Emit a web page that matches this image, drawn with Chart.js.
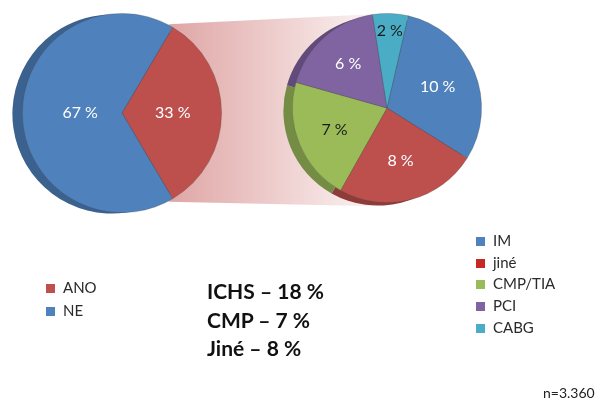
<!DOCTYPE html>
<html>
<head>
<meta charset="utf-8">
<script src="https://cdn.jsdelivr.net/npm/chart.js@4/dist/chart.umd.min.js"></script>
<style>
  html,body{margin:0;padding:0;background:#fff;}
  body{width:607px;height:401px;position:relative;overflow:hidden;font-family:Lato,"Open Sans",sans-serif;}
  canvas{position:absolute;}
  #bg{left:0;top:0;}
  #cL{left:10px;top:1px;}
  #cR{left:279px;top:0px;}
  .legend{position:absolute;font-size:15px;color:#2a2a2a;}
  .legend div{height:21.7px;line-height:21.7px;white-space:nowrap;}
  .legend span{display:inline-block;width:9px;height:9px;margin-right:8px;vertical-align:0px;}
  #legL{left:46px;top:276px;}
  #legL div{height:22.5px;line-height:22.5px;}
  #legR{left:476px;top:230px;}
  #note{position:absolute;left:207px;top:277px;font-weight:bold;font-size:21px;color:#111;line-height:28.5px;}
  #n{position:absolute;left:543px;top:384px;font-size:14px;color:#222;}
</style>
</head>
<body>
<canvas id="bg" width="607" height="401"></canvas>
<canvas id="cL" width="224" height="224"></canvas>
<canvas id="cR" width="216" height="216"></canvas>
<div class="legend" id="legL"></div>
<div class="legend" id="legR"></div>
<div id="note"></div>
<div id="n">n=3.360</div>
<script>
// ---- data ----
const leftLabels = ['ANO', 'NE'];
const leftValues = [33, 67];
const rightLabels = ['IM', 'jiné', 'CMP/TIA', 'PCI', 'CABG'];
const rightValues = [10, 8, 7, 6, 2];
const noteLines = ['ICHS – 18 %', 'CMP – 7 %', 'Jiné – 8 %'];
const sampleText = 'n=3.360';

// ---- styles ----
const leftColors = ['#bd504d', '#4f81bd'];
const rightColors = ['#4f81bd', '#bd504d', '#9bbb59', '#8064a2', '#4bacc6'];
const leftLegendColors = ['#c0504d', '#4f81bd'];
const rightLegendColors = ['#4f81bd', '#c62828', '#9bbb59', '#8064a2', '#4bacc6'];
const leftLabelColors = ['#fff', '#fff'];
const rightLabelColors = ['#fff', '#fff', '#1a1a1a', '#fff', '#1a1a1a'];

function darken(hex, f) {
  const n = parseInt(hex.slice(1), 16);
  const r = Math.round(((n >> 16) & 255) * f), g = Math.round(((n >> 8) & 255) * f), b = Math.round((n & 255) * f);
  return `rgb(${r},${g},${b})`;
}

const shadow3d = {
  id: 'shadow3d',
  beforeDatasetsDraw(chart, args, opts) {
    const ctx = chart.ctx;
    const meta = chart.getDatasetMeta(0);
    const colors = chart.data.datasets[0].backgroundColor;
    meta.data.forEach((arc, i) => {
      ctx.save();
      ctx.translate(opts.dx, opts.dy);
      ctx.beginPath();
      ctx.moveTo(arc.x, arc.y);
      ctx.arc(arc.x, arc.y, arc.outerRadius, arc.startAngle, arc.endAngle);
      ctx.closePath();
      ctx.fillStyle = darken(colors[i], 0.75);
      ctx.fill();
      ctx.restore();
    });
  }
};

const sliceLabels = {
  id: 'sliceLabels',
  afterDatasetsDraw(chart, args, opts) {
    const ctx = chart.ctx;
    const meta = chart.getDatasetMeta(0);
    const vals = chart.data.datasets[0].data;
    ctx.save();
    ctx.font = opts.font;
    ctx.textAlign = 'center';
    ctx.textBaseline = 'middle';
    meta.data.forEach((arc, i) => {
      const mid = (arc.startAngle + arc.endAngle) / 2;
      const rr = arc.outerRadius * opts.radius[i];
      ctx.fillStyle = opts.colors[i];
      ctx.fillText(vals[i] + ' %', arc.x + Math.cos(mid) * rr, arc.y + Math.sin(mid) * rr);
    });
    ctx.restore();
  }
};

function makePie(id, labels, values, colors, rotation, pad, shadow, labelOpts) {
  return new Chart(document.getElementById(id), {
    type: 'pie',
    data: { labels, datasets: [{ data: values, backgroundColor: colors, borderColor: 'rgba(70,70,70,0.35)', borderWidth: 0.8 }] },
    options: {
      responsive: false, animation: false, rotation,
      layout: { padding: pad },
      plugins: { legend: { display: false }, tooltip: { enabled: false }, shadow3d: shadow, sliceLabels: labelOpts }
    },
    plugins: [shadow3d, sliceLabels]
  });
}

const chartL = makePie('cL', leftLabels, leftValues, leftColors, 90 - leftValues[0] / 100 * 180, 12,
  { dx: -10, dy: 1 }, { font: '16px Lato', radius: [0.51, 0.42], colors: leftLabelColors });
const chartR = makePie('cR', rightLabels, rightValues, rightColors, 13, 13,
  { dx: -9, dy: 3 }, { font: '16px Lato', radius: [0.58, 0.58, 0.6, 0.62, 0.82], colors: rightLabelColors });

// connector band
(function () {
  const bg = document.getElementById('bg').getContext('2d');
  const aL = chartL.getDatasetMeta(0).data[0];
  const aR = chartR.getDatasetMeta(0).data[0];
  const oL = { x: 10, y: 1 }, oR = { x: 279, y: 0 };
  const x1 = oL.x + aL.x + Math.cos(aL.startAngle) * aL.outerRadius;
  const y1 = oL.y + aL.y + Math.sin(aL.startAngle) * aL.outerRadius;
  const x2 = oL.x + aL.x + Math.cos(aL.endAngle) * aL.outerRadius;
  const y2 = oL.y + aL.y + Math.sin(aL.endAngle) * aL.outerRadius;
  const cx = oR.x + aR.x, cy = oR.y + aR.y, r = aR.outerRadius;
  const g = bg.createLinearGradient(Math.min(x1, x2), 0, cx, 0);
  g.addColorStop(0, 'rgba(192,80,77,0.5)');
  g.addColorStop(1, 'rgba(192,80,77,0.04)');
  bg.fillStyle = g;
  bg.beginPath();
  bg.moveTo(x1 - 4, y1 - 3);
  bg.lineTo(cx, cy - r + 0);
  bg.lineTo(cx, cy + r + 4);
  bg.lineTo(x2 - 4, y2 + 3);
  bg.closePath();
  bg.fill();
})();

// legends & text
function legend(el, labels, colors) {
  const d = document.getElementById(el);
  labels.forEach((l, i) => {
    const row = document.createElement('div');
    const sw = document.createElement('span');
    sw.style.background = colors[i];
    row.appendChild(sw);
    row.appendChild(document.createTextNode(l));
    d.appendChild(row);
  });
}
legend('legL', leftLabels, leftLegendColors);
legend('legR', rightLabels, rightLegendColors);
document.getElementById('note').innerHTML = noteLines.map(t => '<div>' + t + '</div>').join('');
document.getElementById('n').textContent = sampleText;
</script>
</body>
</html>
